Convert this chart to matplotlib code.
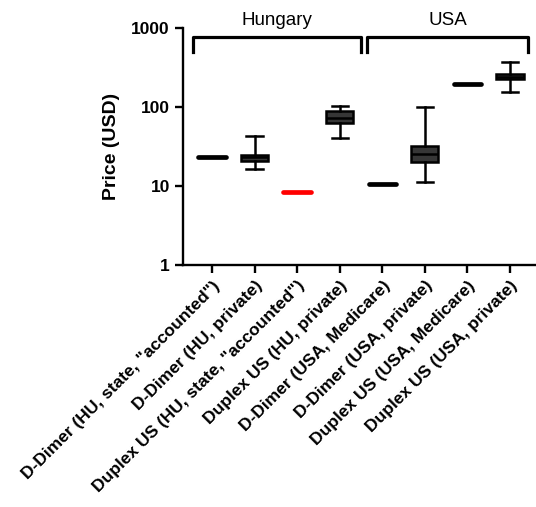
import numpy as np
import matplotlib.pyplot as plt

plt.rcParams['font.family'] = ['Liberation Sans', 'DejaVu Sans']

labels = ['D-Dimer (HU, state, "accounted")', 'D-Dimer (HU, private)',
          'Duplex US (HU, state, "accounted")', 'Duplex US (HU, private)',
          'D-Dimer (USA, Medicare)', 'D-Dimer (USA, private)',
          'Duplex US (USA, Medicare)', 'Duplex US (USA, private)']
med = [23, 23, 8.3, 73, 10.5, 25.4, 195, 242]
q1 = [23, 21, 8.3, 62, 10.5, 20.3, 195, 226]
q3 = [23, 25, 8.3, 89, 10.5, 32, 195, 259]
whislo = [23, 16.3, 8.3, 40, 10.5, 11.1, 195, 156]
whishi = [23, 43, 8.3, 104, 10.5, 100, 195, 375]
single = [True, False, True, False, True, False, True, False]
edge_colors = ['black', 'black', 'red', 'black', 'black', 'black', 'black', 'black']
groups = ['Hungary', 'USA']
group_span = [(-0.45, 3.5), (3.64, 7.42)]

fig = plt.figure(figsize=(5.36, 5.07), dpi=100)
ax = fig.add_axes([0.3414, 0.4773, 0.6586, 0.4675])

stats = [dict(med=m, q1=a, q3=b, whislo=lo, whishi=hi, fliers=[])
         for m, a, b, lo, hi in zip(med, q1, q3, whislo, whishi)]
pos = np.arange(len(labels))
bp = ax.bxp(stats, positions=pos, widths=0.64, patch_artist=True, showfliers=False,
            boxprops=dict(facecolor='#363636', edgecolor='black', linewidth=1.8),
            medianprops=dict(color='black', linewidth=1.8),
            whiskerprops=dict(color='black', linewidth=1.8),
            capprops=dict(color='black', linewidth=1.8), capwidths=0.38)

for i, is_single in enumerate(single):
    if is_single:
        bp['boxes'][i].set_visible(False)
        for art in bp['caps'][2 * i:2 * i + 2] + bp['whiskers'][2 * i:2 * i + 2]:
            art.set_visible(False)
        bp['medians'][i].set_color(edge_colors[i])
        bp['medians'][i].set_linewidth(3.4)
        bp['medians'][i].set_solid_capstyle('round')

ax.set_yscale('log')
ax.set_ylim(1, 1000)
ax.set_xlim(-0.68, 7.61)
ax.set_yticks([1, 10, 100, 1000])
ax.set_yticklabels(['1', '10', '100', '1000'])
ax.minorticks_off()
ax.set_xticks(pos)
ax.set_xticklabels(labels, rotation=45, ha='right', rotation_mode='anchor')

for side in ['top', 'right']:
    ax.spines[side].set_visible(False)
for side in ['left', 'bottom']:
    ax.spines[side].set_linewidth(1.7)
ax.tick_params(width=1.7, length=6, labelsize=12.5)
for t in ax.get_xticklabels() + ax.get_yticklabels():
    t.set_fontweight('bold')
ax.set_ylabel('Price (USD)', fontsize=14, fontweight='bold', labelpad=8)

for name, (a, b) in zip(groups, group_span):
    ax.plot([a, a, b, b], [500, 770, 770, 500], color='black', lw=2.3, clip_on=False)
    ax.text((a + b) / 2, 1230, name, ha='center', va='center', fontsize=13.5)

fig.savefig('out.png', dpi=100)
